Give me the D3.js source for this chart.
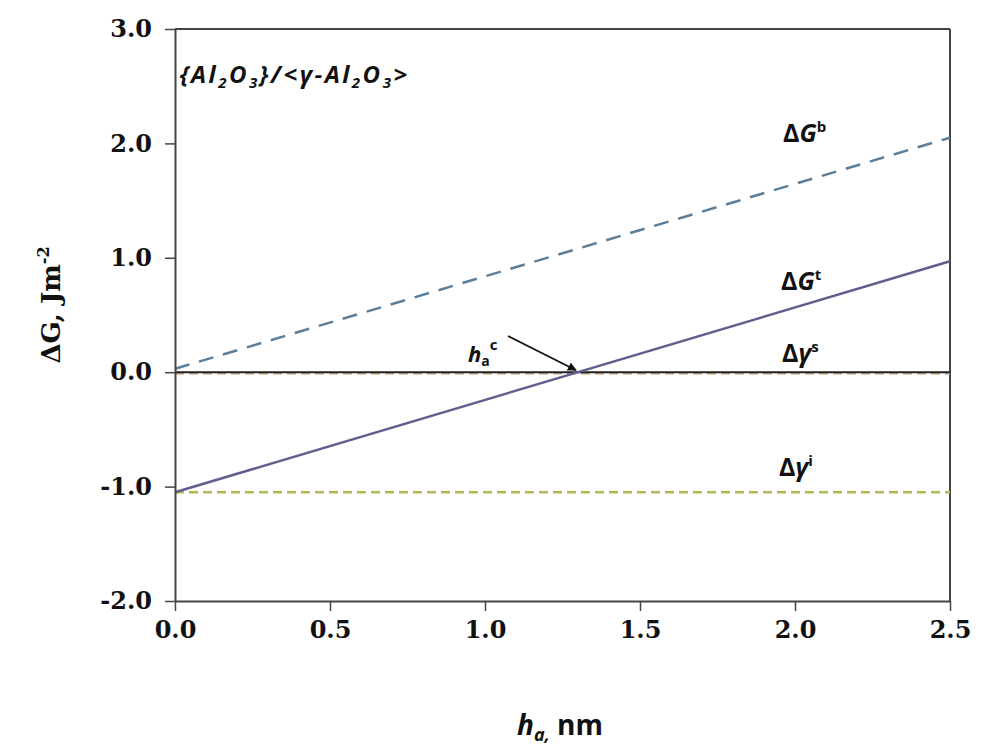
<!DOCTYPE html>
<html><head><meta charset="utf-8">
<script src="https://cdn.jsdelivr.net/npm/d3@7"></script>
<style>body{margin:0;background:#fff}</style>
</head><body>
<svg id="c" width="985" height="756"></svg>
<script>
const xDomain = [0, 2.5];
const yDomain = [-2, 3];
const xTicks = [0, 0.5, 1.0, 1.5, 2.0, 2.5];
const yTicks = [-2, -1, 0, 1, 2, 3];
const hA = [0, 2.5];
const dGb = [0.03, 2.05];
const dGt = [-1.05, 0.97];
const dGammaS = [-0.01, -0.01];
const dGammaI = [-1.05, -1.05];
const zeroLine = [0, 0];
const hac = 1.30;

const svg = d3.select('#c');
const L = 175, R = 950, T = 29, B = 601;
const x = d3.scaleLinear().domain(xDomain).range([L, R]);
const y = d3.scaleLinear().domain(yDomain).range([B, T]);
const fmt = d => d3.format('.1f')(d).replace('−', '-');

// box
svg.append('line').attr('x1', L).attr('x2', R).attr('y1', T).attr('y2', T).attr('stroke', '#444').attr('stroke-width', 2);
svg.append('line').attr('x1', R).attr('x2', R).attr('y1', T).attr('y2', B).attr('stroke', '#444').attr('stroke-width', 2);

const line = d3.line().x(d => x(d[0])).y(d => y(d[1]));
const pts = arr => hA.map((h, i) => [h, arr[i]]);

svg.append('path').attr('d', line(pts(dGammaI))).attr('fill', 'none').attr('stroke', '#b5b84e').attr('stroke-width', 2.5).attr('stroke-dasharray', '9,5');
svg.append('path').attr('d', line(pts(dGammaS))).attr('fill', 'none').attr('stroke', '#c9a07a').attr('stroke-width', 2.5).attr('stroke-dasharray', '9,5');
svg.append('path').attr('d', line(pts(zeroLine))).attr('fill', 'none').attr('stroke', '#222').attr('stroke-width', 2);
svg.append('path').attr('d', line(pts(dGb))).attr('fill', 'none').attr('stroke', '#5c7e98').attr('stroke-width', 2.5).attr('stroke-dasharray', '15,10');
svg.append('path').attr('d', line(pts(dGt))).attr('fill', 'none').attr('stroke', '#5f5f8f').attr('stroke-width', 2.5);

// axes
const xAxis = d3.axisBottom(x).tickValues(xTicks).tickFormat(fmt).tickSize(10).tickSizeOuter(0);
const gx = svg.append('g').attr('transform', `translate(0,${B})`).call(xAxis);
gx.select('.domain').attr('stroke', '#444').attr('stroke-width', 2);
gx.selectAll('.tick line').attr('stroke', '#444').attr('stroke-width', 1.5);
gx.selectAll('text').attr('font-family', 'DejaVu Serif').attr('font-weight', 'bold').attr('font-size', 24).attr('fill', '#111').attr('y', 20).attr('dy', '0.71em');

const yAxis = d3.axisLeft(y).tickValues(yTicks).tickFormat(fmt).tickSize(10).tickSizeOuter(0);
const gy = svg.append('g').attr('transform', `translate(${L},0)`).call(yAxis);
gy.select('.domain').attr('stroke', '#444').attr('stroke-width', 2);
gy.selectAll('.tick line').attr('stroke', '#444').attr('stroke-width', 1.5);
gy.selectAll('text').attr('font-family', 'DejaVu Serif').attr('font-weight', 'bold').attr('font-size', 24).attr('fill', '#111').attr('x', -23);

// axis titles
const yt = svg.append('text').attr('transform', 'translate(60,305) rotate(-90)').attr('text-anchor', 'middle')
  .attr('font-family', 'DejaVu Serif').attr('font-weight', 600).attr('font-size', 26).attr('fill', '#111');
yt.append('tspan').text('ΔG, Jm');
yt.append('tspan').attr('font-size', 16).attr('dy', -11).text('-2');

const xt = svg.append('text').attr('x', 560).attr('y', 735).attr('text-anchor', 'middle')
  .attr('font-family', 'Open Sans').attr('font-weight', 'bold').attr('font-size', 28).attr('fill', '#111');
xt.append('tspan').attr('font-style', 'italic').text('h');
xt.append('tspan').attr('font-size', 18).attr('dy', 6).attr('font-style', 'italic').text('a,');
xt.append('tspan').attr('dy', -6).text(' nm');

// inside title
const tt = svg.append('text').attr('x', 180).attr('y', 83).attr('font-family', 'Open Sans').attr('font-weight', 'bold')
  .attr('font-style', 'italic').attr('font-size', 24).attr('fill', '#111').attr('letter-spacing', 2.5);
tt.append('tspan').text('{Al');
tt.append('tspan').attr('font-size', 15).attr('dy', 5).text('2');
tt.append('tspan').attr('dy', -5).text('O');
tt.append('tspan').attr('font-size', 15).attr('dy', 5).text('3');
tt.append('tspan').attr('dy', -5).text('}/<γ-Al');
tt.append('tspan').attr('font-size', 15).attr('dy', 5).text('2');
tt.append('tspan').attr('dy', -5).text('O');
tt.append('tspan').attr('font-size', 15).attr('dy', 5).text('3');
tt.append('tspan').attr('dy', -5).text('>');

// series labels
function lab(px, py, base, it, sup) {
  const t = svg.append('text').attr('x', px).attr('y', py).attr('font-family', 'Open Sans').attr('font-weight', 'bold')
    .attr('font-size', 25).attr('fill', '#111');
  t.append('tspan').text(base);
  t.append('tspan').attr('font-style', 'italic').text(it);
  t.append('tspan').attr('font-size', 15).attr('dy', -10).text(sup);
}
lab(783, 142, 'Δ', 'G', 'b');
lab(781, 290, 'Δ', 'G', 't');
lab(782, 362, 'Δ', 'γ', 's');
lab(779, 476, 'Δ', 'γ', 'i');

// h_a^c annotation
const ht = svg.append('text').attr('x', 468).attr('y', 362).attr('font-family', 'Open Sans').attr('font-weight', 'bold')
  .attr('font-size', 22).attr('fill', '#111');
ht.append('tspan').attr('font-style', 'italic').text('h');
ht.append('tspan').attr('font-size', 14).attr('dy', 4).text('a');
ht.append('tspan').attr('font-size', 15).attr('dy', -16).text('c');

svg.append('defs').append('marker').attr('id', 'ar').attr('viewBox', '0 0 10 10').attr('refX', 9).attr('refY', 5)
  .attr('markerWidth', 5).attr('markerHeight', 5).attr('orient', 'auto')
  .append('path').attr('d', 'M0,0L10,5L0,10z').attr('fill', '#111');
svg.append('line').attr('x1', 508).attr('y1', 336).attr('x2', x(hac) - 2).attr('y2', y(0) - 2)
  .attr('stroke', '#111').attr('stroke-width', 1.8).attr('marker-end', 'url(#ar)');
</script>
</body></html>
